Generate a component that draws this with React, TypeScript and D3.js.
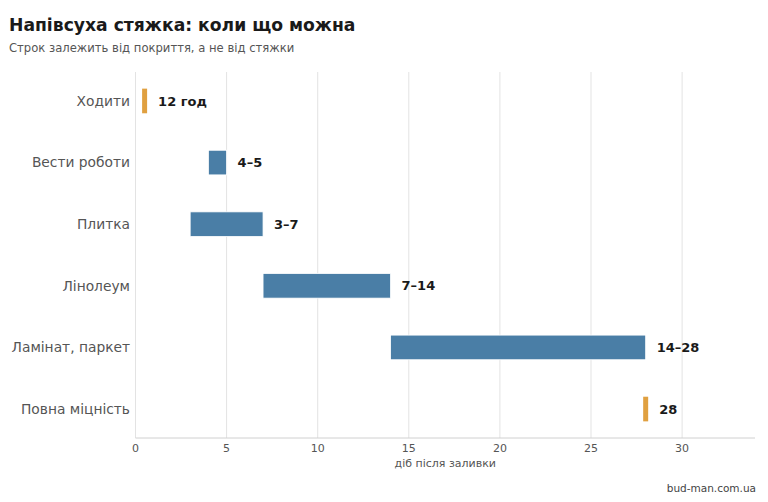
import React from "react";
import * as d3 from "d3";

const categories = ["Ходити", "Вести роботи", "Плитка", "Лінолеум", "Ламінат, паркет", "Повна міцність"];
const starts = [0.5, 4, 3, 7, 14, 28];
const ends = [0.5, 5, 7, 14, 28, 28];
const valueLabels = ["12 год", "4–5", "3–7", "7–14", "14–28", "28"];
const isMarker = [true, false, false, false, false, true];
const xTicks = [0, 5, 10, 15, 20, 25, 30];

const W = 768;
const H = 502;
const M = { left: 135.5, right: 13, top: 72, bottom: 64 };
const FONT = "DejaVu Sans, sans-serif";

export default function App() {
  const x = d3.scaleLinear().domain([0, 34]).range([M.left, W - M.right]);
  const y = d3.scaleBand<string>().domain(categories).range([M.top, H - M.bottom]).paddingInner(0.6).paddingOuter(0.27);
  const bw = y.bandwidth();
  const axisY = H - M.bottom;

  return (
    <svg width={W} height={H} style={{ position: "absolute", left: 0, top: 0, background: "#fff" }} fontFamily={FONT}>
      <text x={9} y={31} fontSize={17.2} fontWeight="bold" fill="#1a1a1a">Напівсуха стяжка: коли що можна</text>
      <text x={9} y={52} fontSize={11.6} fill="#555">Строк залежить від покриття, а не від стяжки</text>

      {xTicks.map((t) => (
        <line key={"g" + t} x1={x(t)} x2={x(t)} y1={M.top} y2={axisY} stroke="#e3e3e3" strokeWidth={1} />
      ))}
      <line x1={M.left} x2={W - M.right} y1={axisY} y2={axisY} stroke="#d0d0d0" strokeWidth={1} />
      {xTicks.map((t) => (
        <text key={"t" + t} x={x(t)} y={axisY + 14} fontSize={11} fill="#555" textAnchor="middle">{t}</text>
      ))}
      <text x={(M.left + W - M.right) / 2} y={axisY + 29} fontSize={11} fill="#555" textAnchor="middle">діб після заливки</text>

      {categories.map((c, i) => {
        const yc = (y(c) as number) + bw / 2;
        const x0 = isMarker[i] ? x(starts[i]) - 2.5 : x(starts[i]);
        const x1 = isMarker[i] ? x(ends[i]) + 2.5 : x(ends[i]);
        return (
          <g key={c}>
            <text x={130} y={yc} dy="0.35em" fontSize={13.8} fill="#555" textAnchor="end">{c}</text>
            <rect
              x={x0}
              y={y(c)}
              width={x1 - x0}
              height={bw}
              fill={isMarker[i] ? "#e0a040" : "#4a7ea6"}
              stroke={isMarker[i] ? "none" : "#ffffff"}
              strokeWidth={0.8}
            />
            <text x={x1 + 11} y={yc} dy="0.35em" fontSize={13} fontWeight="bold" fill="#1a1a1a">{valueLabels[i]}</text>
          </g>
        );
      })}

      <text x={756} y={492} fontSize={10.5} fill="#444" textAnchor="end">bud-man.com.ua</text>
    </svg>
  );
}
